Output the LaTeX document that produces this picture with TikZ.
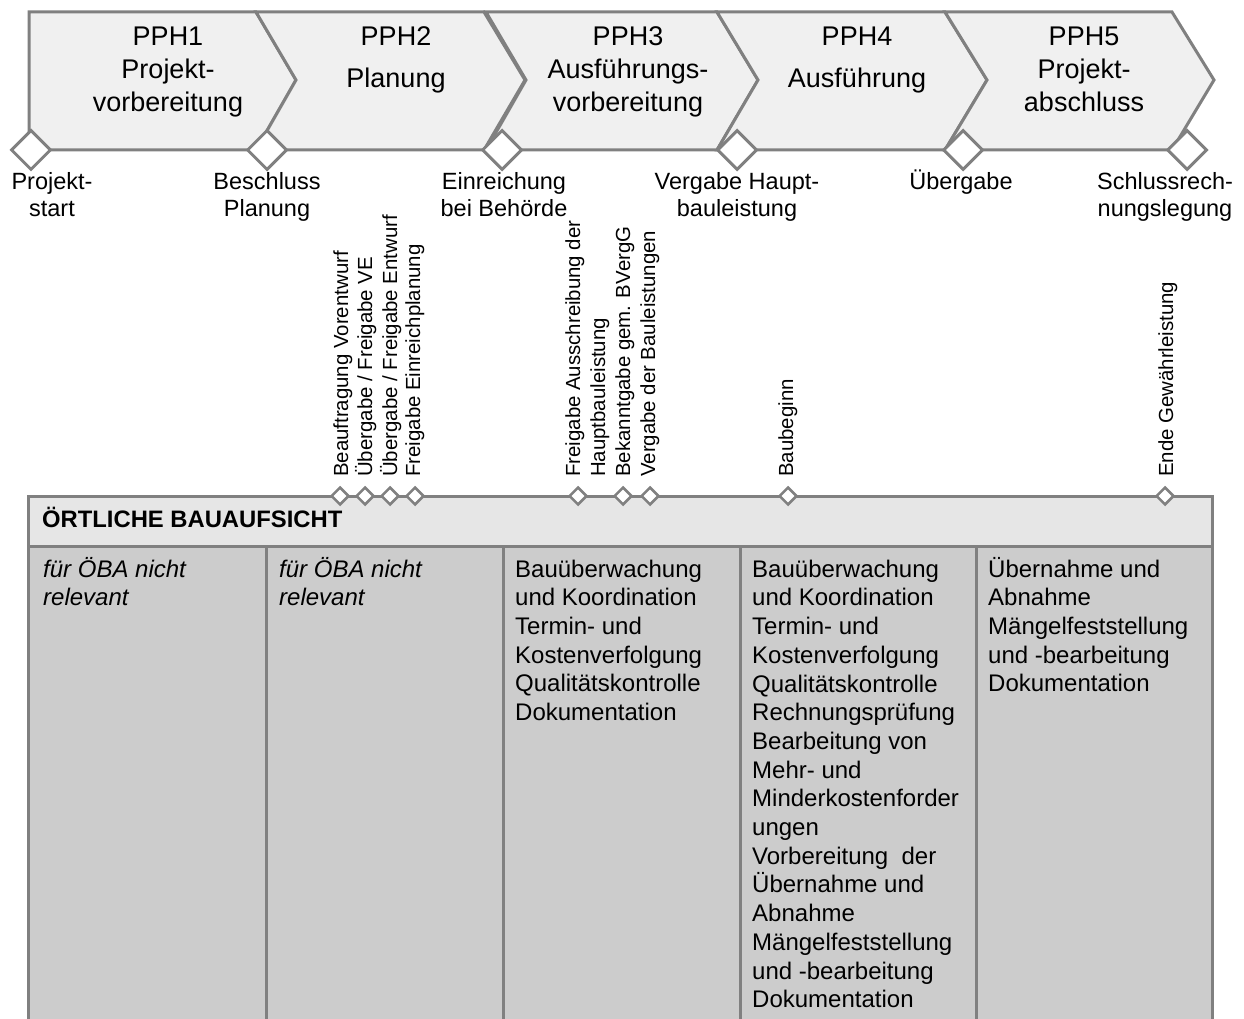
\documentclass[tikz,border=0pt]{standalone}
\usepackage{fontspec}
\setmainfont{Liberation Sans}
\usetikzlibrary{shapes.geometric}
\definecolor{lineg}{RGB}{128,128,128}
\definecolor{chevfill}{RGB}{240,240,240}
\definecolor{headfill}{RGB}{230,230,230}
\definecolor{cellfill}{RGB}{204,204,204}
\newcommand\chevfont{\fontsize{27}{33}\selectfont}
\newcommand\msfont{\fontsize{23.5}{27.4}\selectfont}
\newcommand\vlabfont{\fontsize{20.4}{24}\selectfont}
\newcommand\cellfont{\fontsize{24}{28.7}\selectfont}
\newcommand\headfont{\fontsize{23.8}{28}\selectfont\bfseries}
\begin{document}
\begin{tikzpicture}[x=1pt,y=-1pt,
  chev/.style={fill=chevfill, draw=lineg, line width=3pt, line join=miter},
  bigms/.style={shape=diamond, draw=lineg, fill=white, line width=3pt, minimum width=40pt, minimum height=40pt, inner sep=0pt},
  smallms/.style={shape=diamond, draw=lineg, fill=white, line width=2.5pt, minimum width=18pt, minimum height=18pt, inner sep=0pt},
  chevtext/.style={font=\chevfont, align=center, anchor=north, inner sep=0pt},
  mstext/.style={font=\msfont, align=center, anchor=north, inner sep=0pt},
  vlab/.style={font=\vlabfont, rotate=90, anchor=base west, inner sep=0pt},
  cellbox/.style={fill=cellfill, draw=lineg, line width=3pt},
  celltext/.style={font=\cellfont, align=left, anchor=north west, inner sep=0pt},
  italtext/.style={celltext, font=\cellfont\itshape},
  headbox/.style={fill=headfill, draw=lineg, line width=3pt},
  headtext/.style={font=\headfont, anchor=base west, inner sep=0pt},
]
\useasboundingbox (0,0) rectangle (1244,1019);
\clip (0,0) rectangle (1244,1019);

% phase chevrons
\path[chev] (29,12) -- (256,12) -- (296,80) -- (256,150) -- (29,150) -- cycle;
\path[chev] (256,12) -- (484,12) -- (525,80) -- (484,150) -- (256,150) -- (296,80) -- cycle;
\path[chev] (486,12) -- (717,12) -- (758,80) -- (717,150) -- (486,150) -- (526,80) -- cycle;
\path[chev] (717,12) -- (945,12) -- (987,80) -- (945,150) -- (717,150) -- (758,80) -- cycle;
\path[chev] (945,12) -- (1172,12) -- (1214,80) -- (1172,150) -- (945,150) -- (987,80) -- cycle;

\node[chevtext] (p1) at (168,21.9) {\strut PPH1\\Projekt-\\vorbereitung};
\node[chevtext] (p2) at (396,21.9) {\strut PPH2\\[9pt]Planung};
\node[chevtext] (p3) at (628,21.9) {\strut PPH3\\Ausführungs-\\vorbereitung};
\node[chevtext] (p4) at (857,21.9) {\strut PPH4\\[9pt]Ausführung};
\node[chevtext] (p5) at (1084,21.9) {\strut PPH5\\Projekt-\\abschluss};

% milestones of the phases
\node[bigms] (m1) at (31,150) {};
\node[bigms] (m2) at (267,150) {};
\node[bigms] (m3) at (502,150) {};
\node[bigms] (m4) at (737,150) {};
\node[bigms] (m5) at (963,150) {};
\node[bigms] (m6) at (1187,150) {};

\node[mstext] (l1) at (52,170.1) {\strut Projekt-\\start};
\node[mstext] (l2) at (267,170.1) {\strut Beschluss\\Planung};
\node[mstext] (l3) at (504,170.1) {\strut Einreichung\\bei Behörde};
\node[mstext] (l4) at (737,170.1) {\strut Vergabe Haupt-\\bauleistung};
\node[mstext] (l5) at (961,170.1) {\strut Übergabe};
\node[mstext] (l6) at (1165,170.1) {\strut Schlussrech-\\nungslegung};

% table
\path[cellbox] (28,546) rectangle (266,1030);
\path[cellbox] (266,546) rectangle (503,1030);
\path[cellbox] (503,546) rectangle (740,1030);
\path[cellbox] (740,546) rectangle (976,1030);
\path[cellbox] (976,546) rectangle (1212,1030);
\path[headbox] (28,496) rectangle (1212,546);
\node[headtext] (hd) at (42,527) {ÖRTLICHE BAUAUFSICHT};

\node[italtext] (c1) at (43,556.9) {\strut für ÖBA nicht\\relevant};
\node[italtext] (c2) at (279,556.9) {\strut für ÖBA nicht\\relevant};
\node[celltext] (c3) at (515,556.9) {\strut Bauüberwachung\\und Koordination\\Termin- und\\Kostenverfolgung\\Qualitätskontrolle\\Dokumentation};
\node[celltext] (c4) at (752,556.9) {\strut Bauüberwachung\\und Koordination\\Termin- und\\Kostenverfolgung\\Qualitätskontrolle\\Rechnungsprüfung\\Bearbeitung von\\Mehr- und\\Minderkostenforder\\ungen\\Vorbereitung\ \ der\\Übernahme und\\Abnahme\\Mängelfeststellung\\und -bearbeitung\\Dokumentation};
\node[celltext] (c5) at (988,556.9) {\strut Übernahme und\\Abnahme\\Mängelfeststellung\\und -bearbeitung\\Dokumentation};

% milestones on the table
\node[smallms] (s1) at (340,496) {};
\node[smallms] (s2) at (365,496) {};
\node[smallms] (s3) at (390,496) {};
\node[smallms] (s4) at (415,496) {};
\node[smallms] (s5) at (578,496) {};
\node[smallms] (s6) at (623,496) {};
\node[smallms] (s7) at (650,496) {};
\node[smallms] (s8) at (788,496) {};
\node[smallms] (s9) at (1165,496) {};

\node[vlab] (v1) at (348,477) {Beauftragung Vorentwurf};
\node[vlab] (v2) at (372,477) {Übergabe / Freigabe VE};
\node[vlab] (v3) at (397,477) {Übergabe / Freigabe Entwurf};
\node[vlab] (v4) at (420,477) {Freigabe Einreichplanung};
\node[vlab] (v5a) at (580,477) {Freigabe Ausschreibung der};
\node[vlab] (v5b) at (605,477) {Hauptbauleistung};
\node[vlab] (v6) at (630,477) {Bekanntgabe gem. BVergG};
\node[vlab] (v7) at (655,477) {Vergabe der Bauleistungen};
\node[vlab] (v8) at (793,477) {Baubeginn};
\node[vlab] (v9) at (1173,477) {Ende Gewährleistung};
\end{tikzpicture}
\end{document}
